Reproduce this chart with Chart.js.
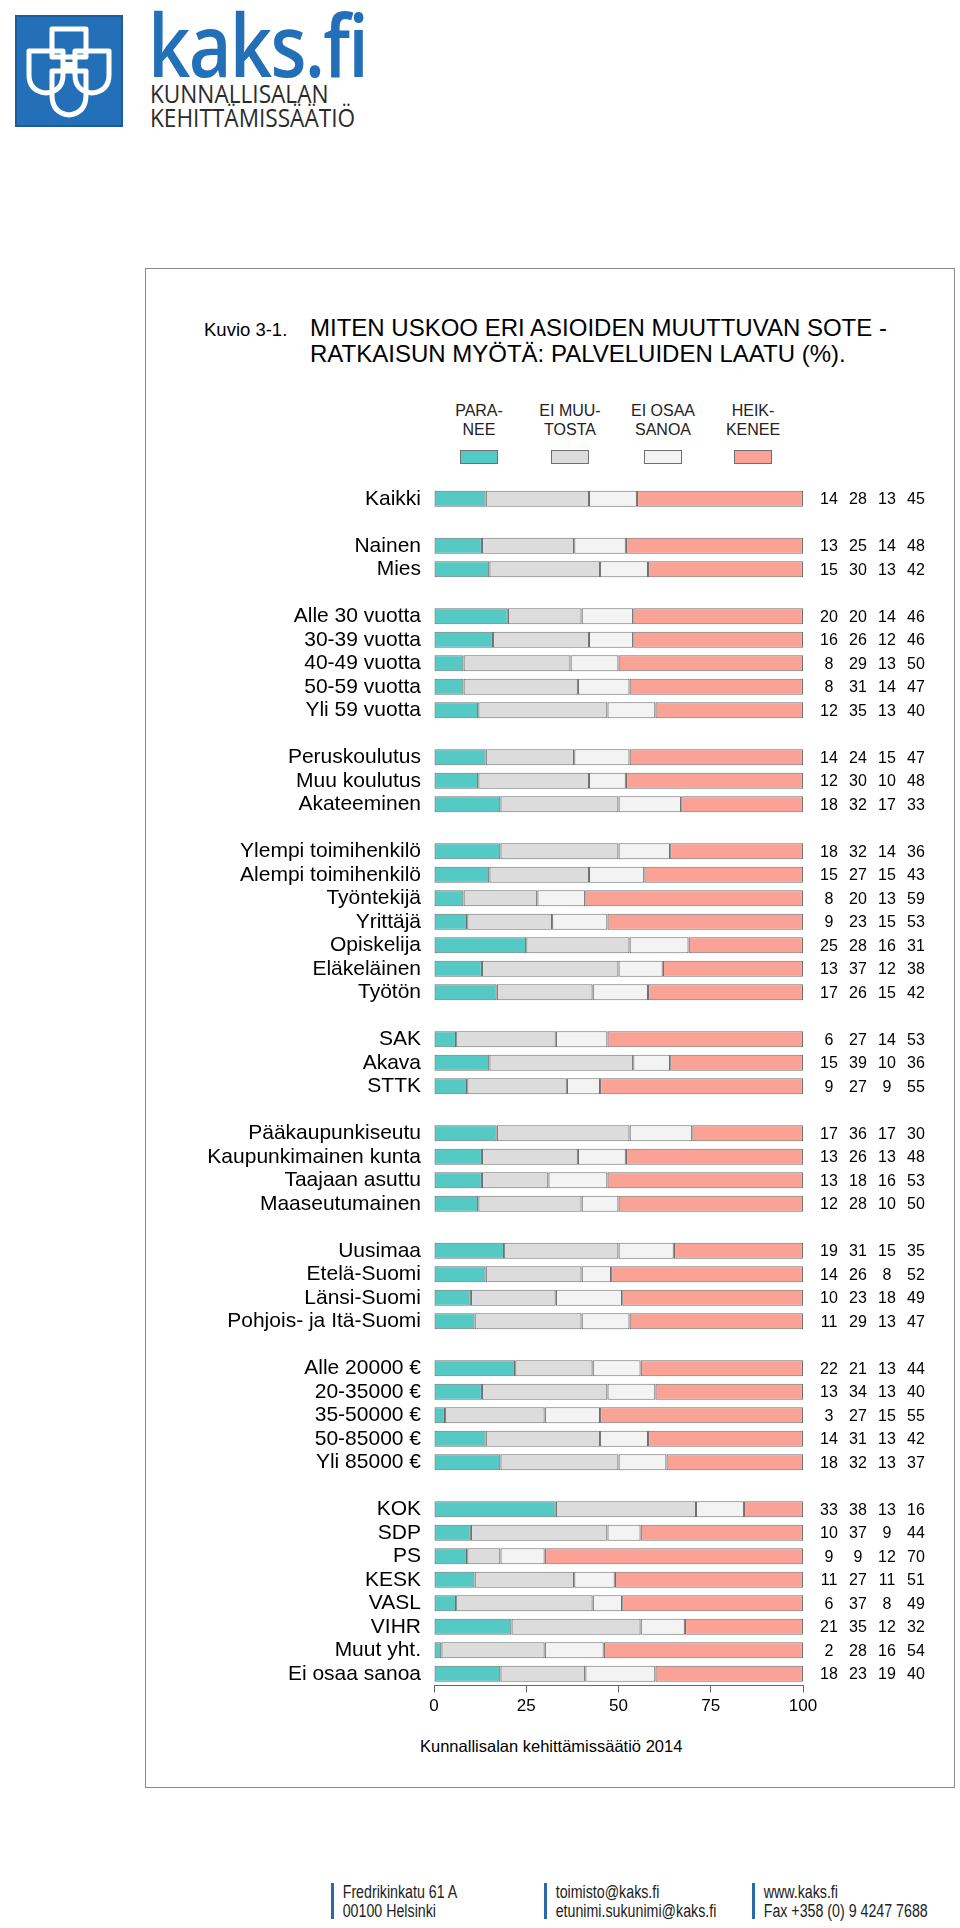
<!DOCTYPE html>
<html lang="fi">
<head>
<meta charset="utf-8">
<title>Kuvio 3-1. Palveluiden laatu</title>
<script src="https://cdn.jsdelivr.net/npm/chart.js@4.4.1/dist/chart.umd.min.js"></script>
<style>
  html, body { margin: 0; padding: 0; background: #fff; }
  body { width: 960px; height: 1928px; position: relative; overflow: hidden;
         font-family: "Liberation Sans", Arial, sans-serif; color: #000; }
  .abs { position: absolute; }
  #logoBox { left: 15px; top: 15px; width: 108px; height: 112px; background: #2470b8;
             box-shadow: inset 0 0 0 2px #1b5c9c; }
  #logoName { left: 148px; top: -15px; font-family: "Open Sans", "Noto Sans", sans-serif;
              font-size: 86px; font-weight: 600; color: #2470b8; letter-spacing: -2px;
              transform: scaleX(0.86); transform-origin: left top; white-space: pre; }
  .logoSub { left: 150px; font-family: "Open Sans", "Noto Sans", sans-serif; font-size: 26px;
             color: #2b2b2b; line-height: 26px; transform: scaleX(0.87); transform-origin: left top;
             white-space: pre; }
  #frame { left: 145px; top: 268px; width: 808px; height: 1518px; border: 1.5px solid #8a8a8a; }
  #kuvio { left: 204px; top: 319px; font-size: 18.5px; }
  #title { left: 310px; top: 315px; font-size: 24px; line-height: 26px; }
  .legText { font-size: 16px; line-height: 19px; text-align: center; white-space: pre-line;
             width: 100px; color: #222; }
  .legBox { width: 36px; height: 12px; border: 1px solid #6f6f6f; }
  #chartWrap { left: 146px; top: 470px; width: 808px; height: 1260px; }
  #source { left: 420px; top: 1737px; font-size: 16.5px; }
  .foot { font-family: "Liberation Sans", Arial, sans-serif;
          font-size: 18px; line-height: 19px; color: #222; white-space: pre;
          padding-left: 11px; transform: scaleX(0.79); transform-origin: left top; }
  .footBar { width: 3px; height: 36px; background: #2b6aa8; }
</style>
</head>
<body>

<div id="logoBox" class="abs">
  <svg width="108" height="112" viewBox="0 0 108 112">
    <g fill="none" stroke="#fff" stroke-width="5" stroke-linejoin="round">
      <path d="M37 14 H71 V42 H37 Z"/>
      <path d="M14 36 H48 V60 Q48 76 31 78 Q14 76 14 60 Z"/>
      <path d="M60 36 H94 V60 Q94 76 77 78 Q60 76 60 60 Z"/>
      <path d="M37 56 H71 V80 Q71 98 54 100 Q37 98 37 80 Z"/>
    </g>
    <rect x="50" y="47" width="8" height="8" fill="#fff"/>
  </svg>
</div>
<div id="logoName" class="abs">kaks.fi</div>
<div class="abs logoSub" style="top:80px">KUNNALLISALAN</div>
<div class="abs logoSub" style="top:104px">KEHITTÄMISSÄÄTIÖ</div>

<div id="frame" class="abs"></div>
<div id="kuvio" class="abs">Kuvio 3-1.</div>
<div id="title" class="abs">MITEN USKOO ERI ASIOIDEN MUUTTUVAN SOTE -<br>RATKAISUN MYÖTÄ: PALVELUIDEN LAATU (%).</div>

<div id="legend"></div>

<div id="chartWrap" class="abs"><canvas id="chart"></canvas></div>
<div id="source" class="abs">Kunnallisalan kehittämissäätiö 2014</div>

<div class="abs footBar" style="left:331px; top:1883px"></div>
<div class="abs foot" style="left:334px; top:1883px">Fredrikinkatu 61 A
00100 Helsinki</div>
<div class="abs footBar" style="left:544px; top:1883px"></div>
<div class="abs foot" style="left:547px; top:1883px">toimisto@kaks.fi
etunimi.sukunimi@kaks.fi</div>
<div class="abs footBar" style="left:752px; top:1883px"></div>
<div class="abs foot" style="left:755px; top:1883px">www.kaks.fi
Fax +358 (0) 9 4247 7688</div>

<script>
// rows, '' = empty spacer row between groups
const categories = [
  'Kaikki', '',
  'Nainen', 'Mies', '',
  'Alle 30 vuotta', '30-39 vuotta', '40-49 vuotta', '50-59 vuotta', 'Yli 59 vuotta', '',
  'Peruskoulutus', 'Muu koulutus', 'Akateeminen', '',
  'Ylempi toimihenkilö', 'Alempi toimihenkilö', 'Työntekijä', 'Yrittäjä', 'Opiskelija', 'Eläkeläinen', 'Työtön', '',
  'SAK', 'Akava', 'STTK', '',
  'Pääkaupunkiseutu', 'Kaupunkimainen kunta', 'Taajaan asuttu', 'Maaseutumainen', '',
  'Uusimaa', 'Etelä-Suomi', 'Länsi-Suomi', 'Pohjois- ja Itä-Suomi', '',
  'Alle 20000 €', '20-35000 €', '35-50000 €', '50-85000 €', 'Yli 85000 €', '',
  'KOK', 'SDP', 'PS', 'KESK', 'VASL', 'VIHR', 'Muut yht.', 'Ei osaa sanoa'
];

const paranee = [14, null, 13, 15, null, 20, 16, 8, 8, 12, null, 14, 12, 18, null,
  18, 15, 8, 9, 25, 13, 17, null, 6, 15, 9, null, 17, 13, 13, 12, null,
  19, 14, 10, 11, null, 22, 13, 3, 14, 18, null, 33, 10, 9, 11, 6, 21, 2, 18];
const eiMuutosta = [28, null, 25, 30, null, 20, 26, 29, 31, 35, null, 24, 30, 32, null,
  32, 27, 20, 23, 28, 37, 26, null, 27, 39, 27, null, 36, 26, 18, 28, null,
  31, 26, 23, 29, null, 21, 34, 27, 31, 32, null, 38, 37, 9, 27, 37, 35, 28, 23];
const eiOsaaSanoa = [13, null, 14, 13, null, 14, 12, 13, 14, 13, null, 15, 10, 17, null,
  14, 15, 13, 15, 16, 12, 15, null, 14, 10, 9, null, 17, 13, 16, 10, null,
  15, 8, 18, 13, null, 13, 13, 15, 13, 13, null, 13, 9, 12, 11, 8, 12, 16, 19];
const heikkenee = [45, null, 48, 42, null, 46, 46, 50, 47, 40, null, 47, 48, 33, null,
  36, 43, 59, 53, 31, 38, 42, null, 53, 36, 55, null, 30, 48, 53, 50, null,
  35, 52, 49, 47, null, 44, 40, 55, 42, 37, null, 16, 44, 70, 51, 49, 32, 54, 40];

const seriesNames = ['PARA-\nNEE', 'EI MUU-\nTOSTA', 'EI OSAA\nSANOA', 'HEIK-\nKENEE'];
const seriesColors = ['#55c9c3', '#dcdcdc', '#f3f3f3', '#fba296'];
const xTicks = [0, 25, 50, 75, 100];

const allSeries = [paranee, eiMuutosta, eiOsaaSanoa, heikkenee];
const FONT = '"Liberation Sans", Arial, sans-serif';

// legend above the chart
function buildLegend() {
  const legendX = [479, 570, 663, 753];
  const host = document.getElementById('legend');
  seriesNames.forEach((name, i) => {
    const t = document.createElement('div');
    t.className = 'abs legText';
    t.style.left = (legendX[i] - 50) + 'px';
    t.style.top = '401px';
    t.textContent = name;
    host.appendChild(t);
    const b = document.createElement('div');
    b.className = 'abs legBox';
    b.style.left = (legendX[i] - 19) + 'px';
    b.style.top = '450px';
    b.style.background = seriesColors[i];
    host.appendChild(b);
  });
}

// numbers to the right of each bar
const valueLabels = {
  id: 'valueLabels',
  afterDatasetsDraw(chart) {
    const { ctx, chartArea, scales } = chart;
    ctx.save();
    ctx.font = '16px ' + FONT;
    ctx.fillStyle = '#000';
    ctx.textAlign = 'center';
    ctx.textBaseline = 'middle';
    categories.forEach((c, i) => {
      if (paranee[i] === null) return;
      const y = scales.y.getPixelForValue(i);
      allSeries.forEach((s, k) => {
        ctx.fillText(String(s[i]), chartArea.right + 26 + k * 29, y + 1);
      });
    });
    ctx.restore();
  }
};

function init() {
  buildLegend();
  const ctx = document.getElementById('chart');
  new Chart(ctx, {
    type: 'bar',
    data: {
      labels: categories,
      datasets: allSeries.map((s, i) => ({
        label: seriesNames[i].replace('\n', ''),
        data: s,
        backgroundColor: seriesColors[i],
        borderColor: '#707070',
        borderWidth: 1.2,
        borderSkipped: false,
        barPercentage: 0.69,
        categoryPercentage: 1
      }))
    },
    options: {
      indexAxis: 'y',
      responsive: true,
      maintainAspectRatio: false,
      animation: false,
      layout: { padding: { top: 17, bottom: 4.5, right: 151, left: 0 } },
      plugins: { legend: { display: false }, tooltip: { enabled: false } },
      scales: {
        x: {
          stacked: true,
          min: 0,
          max: 100,
          afterBuildTicks(scale) { scale.ticks = xTicks.map(v => ({ value: v })); },
          afterFit(scale) { scale.height = 40; },
          grid: { display: true, drawOnChartArea: false, drawTicks: true, tickLength: 7, color: '#666', lineWidth: 1 },
          border: { display: true, color: '#666', width: 1 },
          ticks: { font: { size: 17, family: FONT }, color: '#000', padding: 4, maxRotation: 0 }
        },
        y: {
          stacked: true,
          afterFit(scale) {
            scale.width = 288;
            scale.paddingTop = 0;
            scale.paddingBottom = 0;
          },
          grid: { display: false },
          border: { display: false },
          ticks: { autoSkip: false, font: { size: 21, family: FONT }, color: '#000', padding: 5 }
        }
      }
    },
    plugins: [valueLabels]
  });
}

document.addEventListener('DOMContentLoaded', init);
</script>
</body>
</html>
